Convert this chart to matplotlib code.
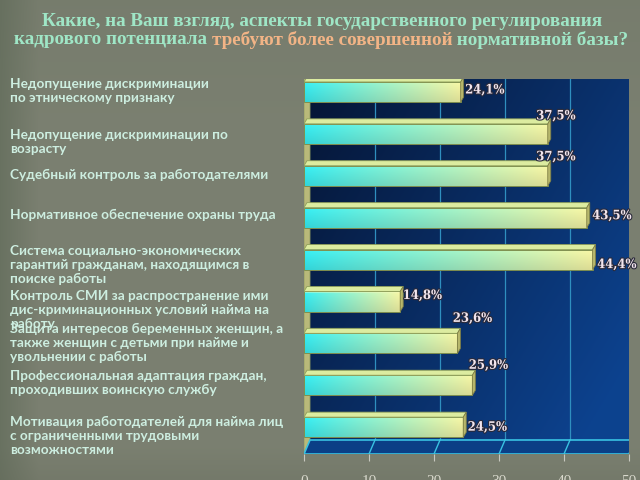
import numpy as np
import matplotlib.pyplot as plt
from matplotlib.patches import Polygon
import matplotlib.patheffects as pe

categories = [
    "Недопущение дискриминации\nпо этническому признаку",
    "Недопущение дискриминации по\nвозрасту",
    "Судебный контроль за работодателями",
    "Нормативное обеспечение охраны труда",
    "Система социально-экономических\nгарантий гражданам, находящимся в\nпоиске работы",
    "Контроль СМИ за распространение ими\nдис-криминационных условий найма на\nработу",
    "Защита интересов беременных женщин, а\nтакже женщин с детьми при найме и\nувольнении с работы",
    "Профессиональная адаптация граждан,\nпроходивших воинскую службу",
    "Мотивация работодателей для найма лиц\nс ограниченными трудовыми\nвозможностями",
]
values = [24.1, 37.5, 37.5, 43.5, 44.4, 14.8, 23.6, 25.9, 24.5]
value_labels = ["24,1%", "37,5%", "37,5%", "43,5%", "44,4%", "14,8%", "23,6%", "25,9%", "24,5%"]
xticks = [0, 10, 20, 30, 40, 50]
xtick_labels = ["0", "10", "20", "30", "40", "50"]

title1 = "Какие, на Ваш взгляд, аспекты государственного регулирования"
title2_parts = ["кадрового потенциала ", "требуют более совершенной", " нормативной базы?"]

# layout (pixels from top of the 640x480 figure)
label_top_px = [78, 129, 169, 209, 245, 290, 323, 370, 416]
value_offsets_px = [(24, 2), (8, 18), (8, 19), (25, 2), (24, -5), (22, 6), (15, 25), (16, 20), (24, 0)]

W, H = 640, 480
fig = plt.figure(figsize=(6.4, 4.8), dpi=100)

# background paper
bg = fig.add_axes([0, 0, 1, 1], zorder=-10)
bg.axis("off")
yy, xx = np.mgrid[0:H, 0:W] / np.array([H, W])[:, None, None]
base = np.array([0.48, 0.50, 0.44])
img = np.ones((H, W, 3)) * base
left = np.clip(1 - xx / 0.06, 0, 1)[..., None]
img = img * (1 - 0.3 * left) + np.array([0.25, 0.32, 0.24]) * 0.3 * left
top = np.clip(1 - yy / 0.25, 0, 1)[..., None]
img = img * (1 - 0.12 * top) + np.array([0.36, 0.40, 0.33]) * 0.12 * top
bot = np.clip((yy - 0.93) / 0.07, 0, 1)[..., None]
img = img * (1 - 0.25 * bot) + np.array([0.38, 0.40, 0.34]) * 0.25 * bot
bg.imshow(img, extent=(0, 1, 0, 1), aspect="auto")
bg.set_xlim(0, 1)
bg.set_ylim(0, 1)

# main axes = front plane of the 3d chart
ax_l, ax_r, ax_top, ax_bot = 304, 629, 79, 454
ax = fig.add_axes([ax_l / W, 1 - ax_bot / H, (ax_r - ax_l) / W, (ax_bot - ax_top) / H])
ytop, ybot = -0.31, 8.64
xmax = 50
dx = 6 / ((ax_r - ax_l) / xmax)
dy = -14 / ((ax_bot - ax_top) / (ybot - ytop))
ax.patch.set_visible(False)
for s in ax.spines.values():
    s.set_visible(False)

# back wall with gradient
gx, gy = np.meshgrid(np.linspace(0, 1, 200), np.linspace(0, 1, 200))
t = np.clip(0.65 * gx + 0.45 * gy, 0, 1)[..., None]
c0 = np.array([0.02, 0.08, 0.20])
c1 = np.array([0.05, 0.26, 0.56])
wall = c0 * (1 - t) + c1 * t
ax.imshow(wall, extent=(dx, xmax + dx, ybot + dy, ytop + dy), aspect="auto", zorder=0)
for xv in xticks[1:-1]:
    ax.plot([xv + dx, xv + dx], [ytop + dy, ybot + dy], color="#2f8fbf", lw=0.9, zorder=1)
ax.plot([dx, xmax + dx], [ytop + dy, ytop + dy], color="#3fb8d8", lw=1.0, zorder=1)

# left wall
ax.add_patch(Polygon([(0, ytop), (dx, ytop + dy), (dx, ybot + dy), (0, ybot)],
                     closed=True, facecolor="#b9b97a", edgecolor="#8f9a60", lw=0.6, zorder=1))

# floor
ax.add_patch(Polygon([(0, ybot), (xmax, ybot), (xmax + dx, ybot + dy), (dx, ybot + dy)],
                     closed=True, facecolor="#0b3f86", edgecolor="#39c3e3", lw=1.2, zorder=1))
for xv in xticks[1:-1]:
    ax.plot([xv, xv + dx], [ybot, ybot + dy], color="#39c3e3", lw=1.0, zorder=1)

# bars
hh = 0.24
bdx = 3 / ((ax_r - ax_l) / xmax)
bdy = -5 / ((ax_bot - ax_top) / (ybot - ytop))
cyan = np.array([0.22, 0.95, 0.97])
yellow = np.array([0.98, 0.98, 0.66])
bx, by = np.meshgrid(np.linspace(0, 1, 120), np.linspace(0, 1, 20))
tt = np.clip(bx ** 0.9, 0, 1)[..., None]
front = cyan * (1 - tt) + yellow * tt
shade = (1 - 0.12 * by)[..., None]
front = front * shade
front[:2] = front[:2] * 0.6 + 0.4 * np.array([0.95, 0.98, 0.75])
for i, v in enumerate(values):
    ax.imshow(front, extent=(0, v, i + hh, i - hh), aspect="auto", zorder=3)
    ax.add_patch(Polygon([(0, i - hh), (v, i - hh), (v, i + hh), (0, i + hh)], closed=True,
                         fill=False, edgecolor="#7f8f4f", lw=0.7, zorder=4))
    ax.add_patch(Polygon([(0, i - hh), (v, i - hh), (v + bdx, i - hh + bdy), (bdx, i - hh + bdy)],
                         closed=True, facecolor="#dcecA0", edgecolor="#8f9f5a", lw=0.6, zorder=4))
    ax.add_patch(Polygon([(v, i - hh), (v + bdx, i - hh + bdy), (v + bdx, i + hh + bdy), (v, i + hh)],
                         closed=True, facecolor="#b7b76c", edgecolor="#7f7f45", lw=0.6, zorder=4))
    ox, oy = value_offsets_px[i]
    ax.annotate(value_labels[i], xy=(v, i), xytext=(ox, oy), textcoords="offset pixels",
                ha="center", va="center", fontsize=9.3, fontweight="bold",
                family="DejaVu Serif", fontstretch="condensed", color="#f3e6ee", zorder=6,
                path_effects=[pe.withStroke(linewidth=1.6, foreground="#2a2a3a")])

ax.set_xlim(0, xmax)
ax.set_ylim(ybot, ytop)
ax.set_yticks([])
ax.set_xticks(xticks)
ax.set_xticklabels(xtick_labels, fontsize=11, family="Liberation Serif", color="#d8d8cc")
ax.tick_params(axis="x", length=5, color="#c8c8c0", pad=10)

# category labels
for lab, ytp in zip(categories, label_top_px):
    fig.text(10 / W, 1 - ytp / H, lab, ha="left", va="top", fontsize=9.8, family="Lato",
             fontweight="bold", color="#cdeee0", linespacing=1.2)

# title
tfont = dict(fontsize=13.8, family="Liberation Serif", fontweight="bold")
green = "#9fe6c6"
orange = "#f2b486"
fig.text(322 / W, 1 - 21 / H, title1, ha="center", va="center", color=green, **tfont)
fig.canvas.draw()
r = fig.canvas.get_renderer()
widths = []
for p in title2_parts:
    tmp = fig.text(0, 0, p.replace(" ", "\u00a0"), **tfont)
    widths.append(tmp.get_window_extent(r).width)
    tmp.remove()
x0 = 321 - sum(widths) / 2
for p, w, c in zip(title2_parts, widths, [green, orange, green]):
    fig.text(x0 / W, 1 - 40 / H, p.replace(" ", "\u00a0"), ha="left", va="center", color=c, **tfont)
    x0 += w

fig.savefig("out.png", dpi=100)
